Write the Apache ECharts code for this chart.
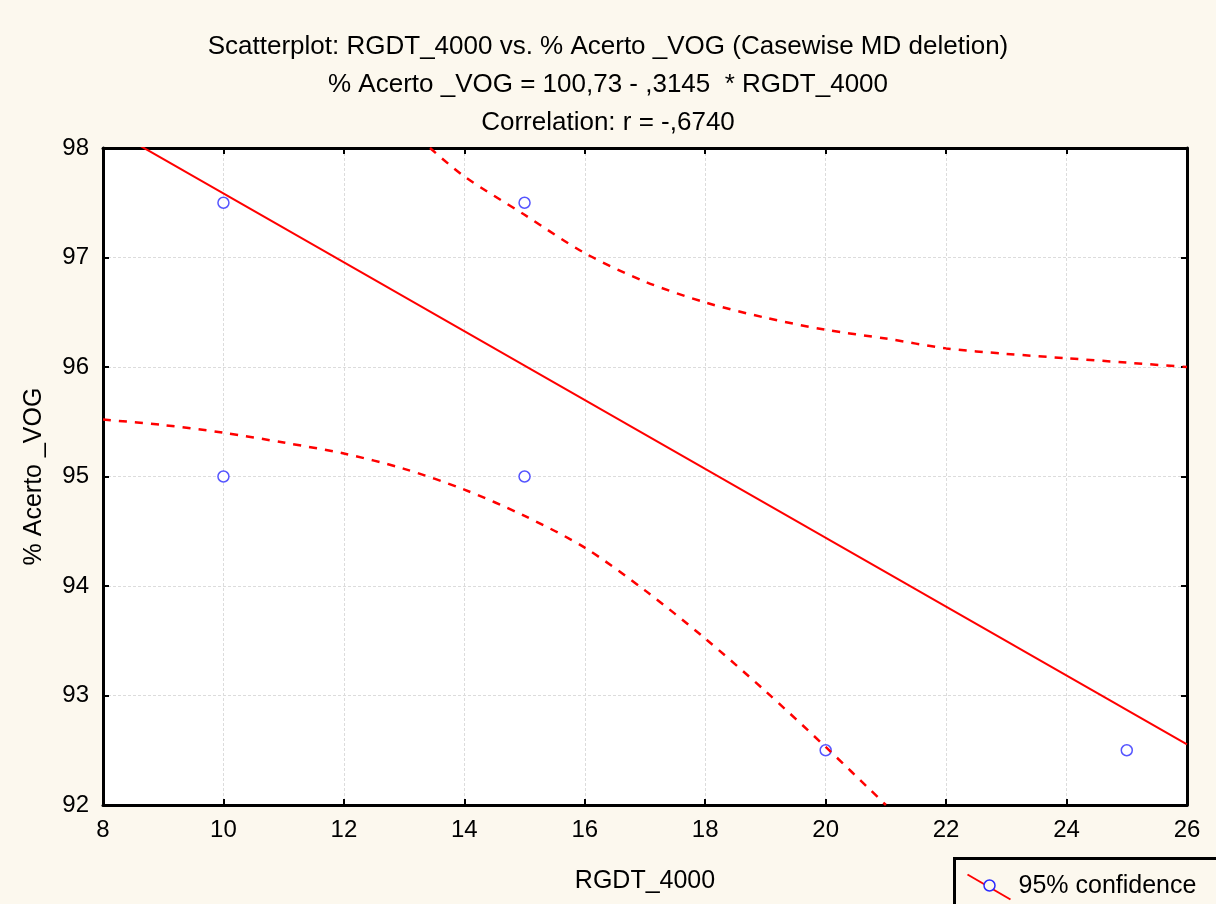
<!DOCTYPE html>
<html>
<head>
<meta charset="UTF-8">
<title>Scatterplot RGDT_4000</title>
<script src="https://cdn.jsdelivr.net/npm/echarts@6/dist/echarts.min.js"></script>
<style>
    body { margin: 0; padding: 0; background: #fcf8ee; }
    #main { width: 1216px; height: 904px; }
</style>
</head>
<body>
<div id="main"></div>
<script type="text/javascript">
// data
var pontosX = [10, 15, 10, 15, 20, 25];
var pontosY = [97.5, 97.5, 95, 95, 92.5, 92.5];
// regression line ends: % Acerto _VOG = 100,73 - ,3145 * RGDT_4000
var retaX = [8, 26];
var retaY = [98.214, 92.553];
// 95% confidence band, upper and lower
var supX = [13.43, 14, 15, 16, 17, 18, 19, 20, 21, 22, 23, 24, 25, 26];
var supY = [98.0, 97.74, 97.39, 97.04, 96.78, 96.59, 96.45, 96.34, 96.26, 96.17, 96.12, 96.08, 96.04, 96.0];
var infX = [8, 9, 10, 11, 12, 13, 14, 15, 16, 17, 18, 19, 20, 21];
var infY = [95.52, 95.47, 95.40, 95.31, 95.21, 95.07, 94.88, 94.64, 94.35, 93.96, 93.52, 93.04, 92.53, 92.0];

function pares(xs, ys) {
    var r = [];
    for (var i = 0; i < xs.length; i++) { r.push([xs[i], ys[i]]); }
    return r;
}

var fonte = '"Liberation Sans", Arial, sans-serif';
var myChart = echarts.init(document.getElementById('main'));

var eixoX = {
    type: 'value', min: 8, max: 26, interval: 2,
    axisLine: { show: true, onZero: false, lineStyle: { color: '#000', width: 3 } },
    axisTick: { show: true, inside: true, length: 6, lineStyle: { color: '#000', width: 2 } },
    splitLine: { show: false }
};
var eixoY = {
    type: 'value', min: 92, max: 98, interval: 1,
    axisLine: { show: true, onZero: false, lineStyle: { color: '#000', width: 3 } },
    axisTick: { show: true, inside: true, length: 6, lineStyle: { color: '#000', width: 2 } },
    splitLine: { show: false }
};

option = {
    backgroundColor: '#fcf8ee',
    animation: false,
    title: {
        text: 'Scatterplot: RGDT_4000 vs. % Acerto _VOG (Casewise MD deletion)\n% Acerto _VOG = 100,73 - ,3145  * RGDT_4000\nCorrelation: r = -,6740',
        left: 'center', top: 23,
        textStyle: { fontFamily: fonte, fontSize: 26, fontWeight: 'normal', color: '#000', lineHeight: 38, align: 'center' }
    },
    grid: { left: 103, right: 29, top: 148, bottom: 99, show: true, backgroundColor: '#fff', borderWidth: 0 },
    xAxis: [
        Object.assign({}, eixoX, {
            position: 'bottom',
            name: 'RGDT_4000', nameLocation: 'middle', nameGap: 64,
            nameTextStyle: { fontFamily: fonte, fontSize: 25, color: '#000' },
            axisLabel: { fontFamily: fonte, fontSize: 24, color: '#000', margin: 13 },
            splitLine: { show: true, lineStyle: { color: '#dcdcdc', type: [3, 2], width: 1 } }
        }),
        Object.assign({}, eixoX, { position: 'top', axisLabel: { show: false } })
    ],
    yAxis: [
        Object.assign({}, eixoY, {
            position: 'left',
            name: '% Acerto _VOG', nameLocation: 'middle', nameGap: 56,
            nameTextStyle: { fontFamily: fonte, fontSize: 25, color: '#000' },
            axisLabel: { fontFamily: fonte, fontSize: 24, color: '#000', margin: 14 },
            splitLine: { show: true, lineStyle: { color: '#dcdcdc', type: [3, 2], width: 1 } }
        }),
        Object.assign({}, eixoY, { position: 'right', axisLabel: { show: false } })
    ],
    series: [
        {
            type: 'line', name: 'reta', data: pares(retaX, retaY),
            showSymbol: false, clip: true,
            lineStyle: { color: '#ff0000', width: 2 }
        },
        {
            type: 'line', name: 'sup', data: pares(supX, supY),
            showSymbol: false, smooth: 0.3, clip: true,
            lineStyle: { color: '#ff0000', width: 2.5, type: [8, 8] }
        },
        {
            type: 'line', name: 'inf', data: pares(infX, infY),
            showSymbol: false, smooth: 0.3, clip: true,
            lineStyle: { color: '#ff0000', width: 2.5, type: [8, 8] }
        },
        {
            type: 'scatter', name: '95% confidence', data: pares(pontosX, pontosY),
            symbol: 'circle', symbolSize: 11,
            itemStyle: { color: '#fff', borderColor: '#2a2aff', borderWidth: 1.5 }
        }
    ],
    graphic: [
        {
            type: 'group', left: 953, top: 857,
            children: [
                { type: 'rect', shape: { x: 0, y: 0, width: 270, height: 52 },
                  style: { fill: '#fcf8ee', stroke: '#000', lineWidth: 3 } },
                { type: 'line', shape: { x1: 13, y1: 16, x2: 56, y2: 41 },
                  style: { stroke: '#ff0000', lineWidth: 2 } },
                { type: 'circle', shape: { cx: 35, cy: 27, r: 5.5 },
                  style: { fill: '#fcf8ee', stroke: '#2a2aff', lineWidth: 1.5 } },
                { type: 'text', x: 64, y: 15,
                  style: { text: '95% confidence', font: '25px "Liberation Sans", Arial, sans-serif', fill: '#000' } }
            ]
        }
    ]
};
myChart.setOption(option);
</script>
</body>
</html>
